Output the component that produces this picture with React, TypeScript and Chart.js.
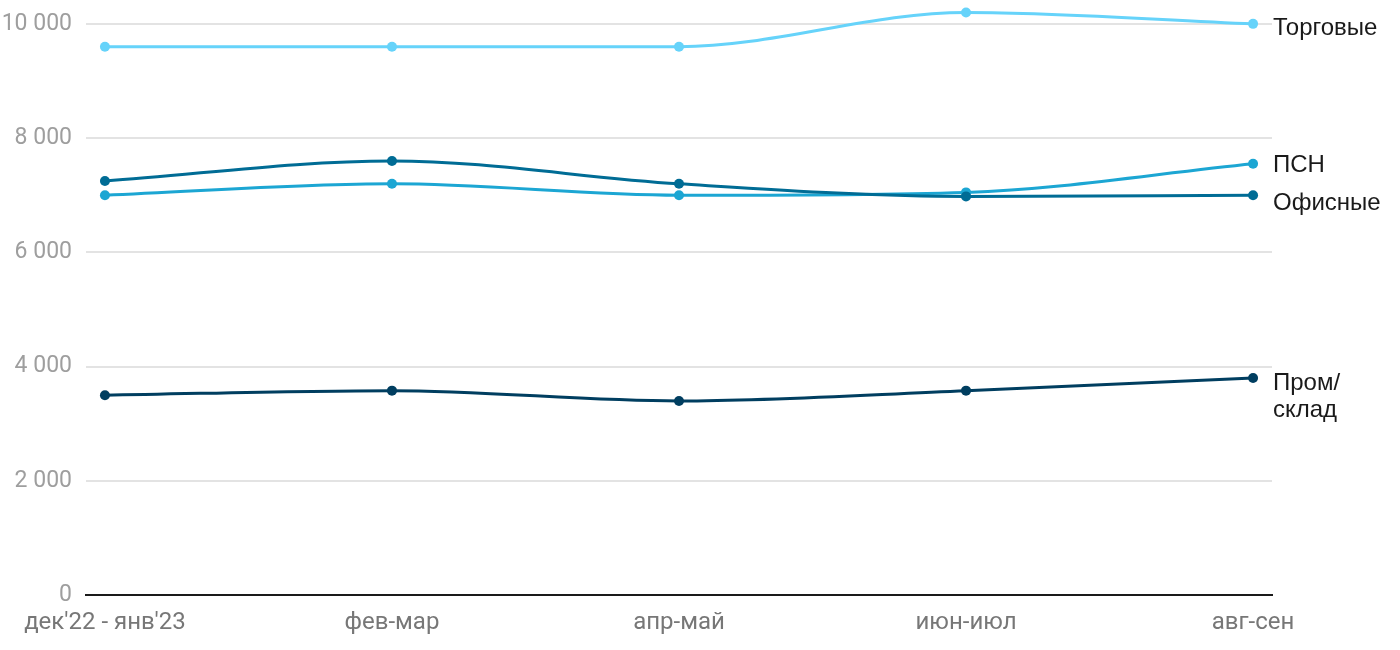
import React, { useEffect, useRef } from "react";
import { Chart, registerables } from "chart.js";

Chart.register(...registerables);

const categories = ["дек'22 - янв'23", "фев-мар", "апр-май", "июн-июл", "авг-сен"];
const seriesNames = ["Торговые", "ПСН", "Офисные", "Пром/\nсклад"];
const torgovye = [9600, 9600, 9600, 10200, 10000];
const psn = [7000, 7200, 7000, 7050, 7550];
const ofisnye = [7250, 7600, 7200, 6980, 7000];
const prom = [3500, 3580, 3400, 3580, 3800];
const colors = ["#66d3fa", "#1ca6d3", "#006c95", "#003e60"];
const yTicks = [0, 2000, 4000, 6000, 8000, 10000];

const fmt = (v: number) => {
  const s = Math.round(v).toString();
  return s.replace(/\B(?=(\d{3})+(?!\d))/g, " ");
};

const endLabels = {
  id: "endLabels",
  afterDatasetsDraw(chart: any) {
    const ctx = chart.ctx;
    const items: { y: number; lines: string[]; idx: number }[] = [];
    chart.data.datasets.forEach((ds: any, i: number) => {
      const meta = chart.getDatasetMeta(i);
      const last = meta.data[meta.data.length - 1];
      items.push({ y: last.y + 5, lines: String(ds.label).split("\n"), idx: i });
    });
    items.sort((a, b) => a.y - b.y);
    const gap = 38;
    for (let k = 1; k < items.length; k++) {
      const d = items[k].y - items[k - 1].y;
      if (d < gap) {
        const half = (gap - d) / 2;
        items[k - 1].y -= half;
        items[k].y += half;
      }
    }
    ctx.save();
    ctx.font = "24px 'Liberation Sans', Arial, sans-serif";
    ctx.fillStyle = "#1a1a1a";
    ctx.textAlign = "left";
    ctx.textBaseline = "middle";
    const x = chart.chartArea.right + 1;
    items.forEach((it) => {
      it.lines.forEach((ln, j) => ctx.fillText(ln, x, it.y + j * 27));
    });
    ctx.restore();
  },
};

export default function App() {
  const ref = useRef<HTMLCanvasElement | null>(null);
  useEffect(() => {
    if (!ref.current) return;
    const data = [torgovye, psn, ofisnye, prom];
    const chart = new Chart(ref.current, {
      type: "line",
      data: {
        datasets: data.map((vals, i) => ({
          label: seriesNames[i],
          data: vals.map((v, j) => ({ x: j, y: v })),
          borderColor: colors[i],
          backgroundColor: colors[i],
          pointBackgroundColor: colors[i],
          pointBorderColor: colors[i],
          borderWidth: 3,
          pointRadius: 5,
          pointBorderWidth: 0,
          cubicInterpolationMode: "monotone" as const,
          order: i === 2 ? 0 : i === 1 ? 1 : i,
        })),
      },
      options: {
        animation: false,
        responsive: false,
        maintainAspectRatio: false,
        layout: { padding: { left: 0, right: 128, top: 0, bottom: 0 } },
        plugins: { legend: { display: false }, tooltip: { enabled: false } },
        scales: {
          x: {
            type: "linear",
            min: -0.066,
            max: categories.length - 1 + 0.066,
            afterBuildTicks: (scale: any) => {
              scale.ticks = categories.map((_, i) => ({ value: i }));
            },
            afterFit: (scale: any) => {
              scale.paddingLeft = 0;
              scale.paddingRight = 0;
            },
            ticks: {
              callback: (v: any) => categories[Math.round(Number(v))] ?? "",
              color: "#777777",
              font: { family: "Roboto", size: 24 },
              padding: 13,
              maxRotation: 0,
              autoSkip: false,
            },
            grid: { display: false, drawTicks: false },
            border: { display: true, color: "#1a1a1a", width: 2 },
          },
          y: {
            min: 0,
            max: 10330,
            afterBuildTicks: (scale: any) => {
              scale.ticks = yTicks.map((v) => ({ value: v }));
            },
            afterFit: (scale: any) => {
              scale.width = 86;
              scale.paddingTop = 0;
              scale.paddingBottom = 0;
            },
            ticks: {
              callback: (v: any) => fmt(Number(v)),
              color: "#9e9e9e",
              font: { family: "Roboto", size: 23 },
              padding: 14,
            },
            grid: { color: "#e3e3e3", lineWidth: 2, drawTicks: false },
            border: { display: false },
          },
        },
      },
      plugins: [endLabels],
    } as any);
    return () => chart.destroy();
  }, []);
  return (
    <div style={{ position: "fixed", left: 0, top: 0, width: 1400, height: 650, background: "#fff" }}>
      <canvas ref={ref} width={1400} height={650} style={{ width: 1400, height: 650 }} />
    </div>
  );
}
